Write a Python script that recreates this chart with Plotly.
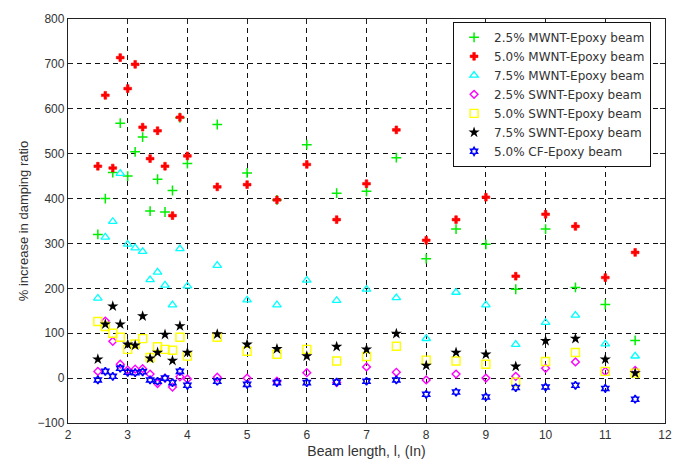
import plotly.graph_objects as go

beam_length = [2.5, 2.625, 2.75, 2.875, 3.0, 3.125, 3.25, 3.375, 3.5, 3.625, 3.75, 3.875, 4.0,
               4.5, 5.0, 5.5, 6.0, 6.5, 7.0, 7.5, 8.0, 8.5, 9.0, 9.5, 10.0, 10.5, 11.0, 11.5]

mwnt_25 = [320, 400, 458, 568, 450, 504, 537, 372, 443, 370, 418, 580, 478,
           565, 457, 397, 520, 412, 416, 491, 266, 332, 298, 198, 332, 202, 164, 84]
mwnt_50 = [472, 630, 468, 714, 645, 699, 559, 489, 551, 472, 362, 581, 495,
           426, 431, 397, 476, 353, 433, 553, 307, 353, 403, 227, 365, 338, 224, 280]
mwnt_75 = [178, 314, 349, 456, 298, 290, 282, 219, 236, 207, 163, 288, 205,
           251, 174, 163, 218, 173, 198, 179, 88, 191, 163, 75, 124, 140, 76, 49]
swnt_25 = [15, 127, 82, 31, 18, 20, 21, 9, -12, 0, -20, 3, -2,
           2, 0, -7, 12, -10, 25, 13, -4, 9, 0, 4, 22, 36, 15, 17]
swnt_50 = [126, 115, 100, 91, 64, 76, 88, 46, 70, 64, 62, 91, 49,
           91, 60, 53, 64, 38, 48, 71, 40, 38, 31, -9, 37, 57, 15, 11]
swnt_75 = [42, 120, 160, 120, 75, 73, 138, 44, 57, 97, 39, 116, 57,
           98, 75, 65, 49, 70, 64, 99, 28, 57, 53, 26, 83, 88, 42, 11]
cf_50 = [-4, 15, 4, 22, 13, 12, 14, -4, -7, 0, -10, 15, -16,
         -7, -14, -10, -10, -9, -7, -4, -36, -31, -42, -21, -20, -16, -23, -47]

series_names = ["2.5% MWNT-Epoxy beam", "5.0% MWNT-Epoxy beam", "7.5% MWNT-Epoxy beam",
                "2.5% SWNT-Epoxy beam", "5.0% SWNT-Epoxy beam", "7.5% SWNT-Epoxy beam",
                "5.0% CF-Epoxy beam"]
series_values = [mwnt_25, mwnt_50, mwnt_75, swnt_25, swnt_50, swnt_75, cf_50]

x_ticks = [2, 3, 4, 5, 6, 7, 8, 9, 10, 11, 12]
y_ticks = [-100, 0, 100, 200, 300, 400, 500, 600, 700, 800]

styles = [
    dict(symbol="cross-thin-open", size=7, color="#00ee00", line=dict(width=1.5, color="#00ee00")),
    dict(symbol="cross", size=6.5, color="#ff0000", line=dict(width=0.6, color="#ff0000")),
    dict(symbol="triangle-up-open", size=7.5, color="#00ffff", line=dict(width=1.3, color="#00ffff")),
    dict(symbol="diamond-open", size=6, color="#ff00ff", line=dict(width=1.4, color="#ff00ff")),
    dict(symbol="square-open", size=8, color="#ffff00", line=dict(width=1.4, color="#ffff00")),
    dict(symbol="star", size=8.5, color="#000000", line=dict(width=0, color="#000000")),
    dict(symbol="hexagram-open", size=6, color="#0000ff", line=dict(width=1.6, color="#0000ff")),
]

fig = go.Figure()
for name, vals, st in zip(series_names, series_values, styles):
    fig.add_trace(go.Scatter(x=beam_length, y=vals, mode="markers", name=name, marker=st))

axis_common = dict(
    showline=True, linecolor="#222222", linewidth=1.3, mirror="ticks",
    ticks="inside", ticklen=5, tickcolor="#222222",
    showgrid=True, gridcolor="#111111", gridwidth=1, griddash="5px,4px",
    zeroline=False,
    tickfont=dict(family="Liberation Sans, Arial", size=12, color="#333333"),
)

fig.update_layout(
    width=684, height=468,
    margin=dict(l=68, r=12, t=17, b=41),
    paper_bgcolor="white", plot_bgcolor="white",
    font=dict(family="Liberation Sans, Arial", size=12, color="#333333"),
    xaxis=dict(range=[2, 12], tickvals=x_ticks,
               title=dict(text="Beam length, l, (In)", standoff=5,
                          font=dict(family="Liberation Sans, Arial", size=14, color="#333333")),
               **axis_common),
    yaxis=dict(range=[-100, 800], tickvals=y_ticks,
               title=dict(text="% increase in damping ratio", standoff=5,
                          font=dict(size=13, color="#333333")),
               **axis_common),
    legend=dict(x=0.645, y=0.993, xanchor="left", yanchor="top",
                bgcolor="white", bordercolor="#111111", borderwidth=1,
                font=dict(family="DejaVu Sans", size=12, color="#333333"),
                tracegroupgap=0, itemsizing="trace"),
    showlegend=True,
)

fig.write_html("out.html")
